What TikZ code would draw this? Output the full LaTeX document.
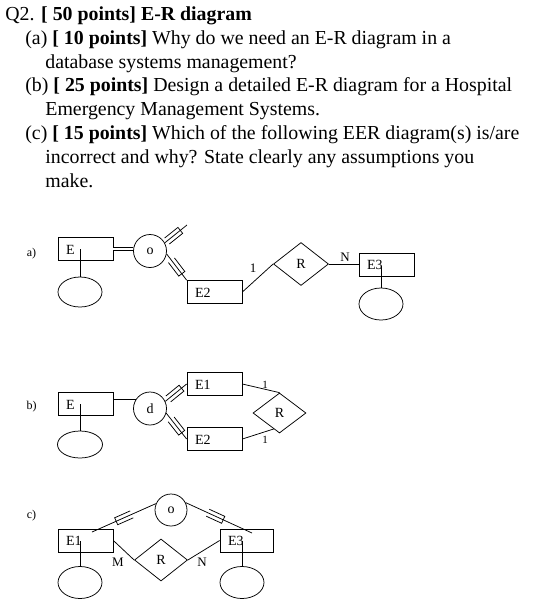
\documentclass[tikz,border=0pt]{standalone}
\usepackage{fontspec}
\setmainfont{Liberation Serif}
\usetikzlibrary{shapes.geometric,calc}
\begin{document}
\begin{tikzpicture}[x=1pt,y=-1pt,line width=0.75pt,
  hd/.style={anchor=base west,inner sep=0pt,font=\fontsize{19.85}{24}\selectfont},
  ent/.style={draw,inner xsep=8pt,inner ysep=0pt,text width=39pt,align=left,minimum height=23pt,text height=10pt,text depth=-3pt,font=\fontsize{14}{16}\selectfont},
  attr/.style={draw,ellipse,inner sep=0pt,minimum width=44pt,minimum height=30pt},
  circ/.style={draw,circle,inner sep=0pt,minimum size=33pt,font=\fontsize{14}{16}\selectfont},
  rel/.style={draw,diamond,inner sep=0pt,minimum width=55pt,minimum height=43pt,font=\fontsize{14}{16}\selectfont},
  lab/.style={inner sep=0pt,font=\fontsize{12}{14}\selectfont},
  card/.style={inner sep=0pt,font=\fontsize{13}{15}\selectfont},
  subs/.pic={\draw (-8.5,-3.8) -- (8.5,-3.8) -- (8.5,3.8) -- (-8.5,3.8);},
  sub/.style={pos=#1,sloped,allow upside down}]
\useasboundingbox (0,0) rectangle (542,603);
% header
\node[hd] (t1) at (5,20.5) {Q2. \textbf{[ 50 points] E-R diagram}};
\node[hd] (t2) at (25,44.3) {(a) \textbf{[ 10 points]} Why do we need an E-R diagram in a};
\node[hd] (t3) at (45,68.1) {database systems management?};
\node[hd] (t4) at (25,91.9) {(b) \textbf{[ 25 points]} Design a detailed E-R diagram for a Hospital};
\node[hd] (t5) at (45,115.7) {Emergency Management Systems.};
\node[hd] (t6) at (25,139.5) {(c) \textbf{[ 15 points]} Which of the following EER diagram(s) is/are};
\node[hd] (t7) at (45,163.3) {incorrect and why? State clearly any assumptions you};
\node[hd] (t8) at (45,187.1) {make.};
% ---- a)
\node[lab] (la) at (31.5,254) {a)};
\node[ent] (Ea) at (85.5,249) {E};
\node[attr] (Aa) at (80,292) {};
\draw (Aa.north) -- (Aa.north |- Ea.center);
\node[circ] (Oa) at (150,251) {o};
\draw[double,double distance=2pt] (Ea.east) -- (Ea.east -| Oa.west);
\coordinate (ta) at (187,225);
\draw (Oa.29) -- pic[sub=0.4]{subs} (ta);
\node[ent] (E2a) at (214.5,292) {E2};
\draw (Oa.350) -- pic[sub=0.5]{subs} (E2a.north west);
\node[rel] (Ra) at (301,264) {R};
\draw (E2a.east) -- (Ra.west);
\node[card] (n1a) at (253,268) {1};
\node[ent] (E3a) at (386.5,264.5) {E3};
\draw (Ra.east) -- (Ra.east -| E3a.west);
\node[card] (nNa) at (345,257) {N};
\node[attr,minimum height=32pt] (A3a) at (381,304) {};
\draw (A3a.north) -- ++(0,-22);
% ---- b)
\node[lab] (lb) at (31.5,406.5) {b)};
\node[ent] (Eb) at (85.5,404) {E};
\node[attr,minimum width=45pt,minimum height=27pt] (Ab) at (80,444.5) {};
\draw (Ab.north) -- (Ab.north |- Eb.center);
\node[circ] (Db) at (150,408.5) {d};
\draw (Eb.east |- Db.149) -- (Db.149);
\node[ent] (E1b) at (214.5,384) {E1};
\node[ent] (E2b) at (214.5,439) {E2};
\draw (Db.25) -- pic[sub=0.45]{subs} (E1b.west);
\draw (Db.344) -- pic[sub=0.5]{subs} (E2b.west);
\node[rel,minimum width=53pt,minimum height=40pt] (Rb) at (279.5,413) {R};
\draw (E1b.east) -- (Rb.north);
\draw (E2b.east) -- (Rb.250);
\node[card,font=\fontsize{11}{13}\selectfont] (n1b) at (265,385) {1};
\node[card,font=\fontsize{11}{13}\selectfont] (n2b) at (265,440) {1};
% ---- c)
\node[lab] (lc) at (31.5,516) {c)};
\node[ent] (E1c) at (85.5,540.5) {E1};
\node[attr,minimum height=32pt] (Ac) at (80,582.5) {};
\draw (Ac.north) -- (Ac.north |- E1c.center);
\node[ent,text width=37pt] (E3c) at (246.5,540.5) {E3};
\node[attr,minimum height=32pt] (A3c) at (242,582.5) {};
\draw (A3c.north) -- (A3c.north |- E3c.center);
\node[circ,minimum size=32pt] (Oc) at (171,510) {o};
\coordinate (c1) at (92,532);
\coordinate (c2) at (252,533);
\draw (Oc.157) -- pic[sub=0.5]{subs} (c1);
\draw (Oc.27) -- pic[sub=0.45]{subs} (c2);
\node[rel,minimum width=53pt,minimum height=42pt] (Rc) at (161,560) {R};
\draw (E1c.east) -- (Rc.west);
\draw (E3c.west) -- (Rc.east);
\node[card] (nMc) at (118,562) {M};
\node[card] (nNc) at (202,562) {N};
\end{tikzpicture}
\end{document}
